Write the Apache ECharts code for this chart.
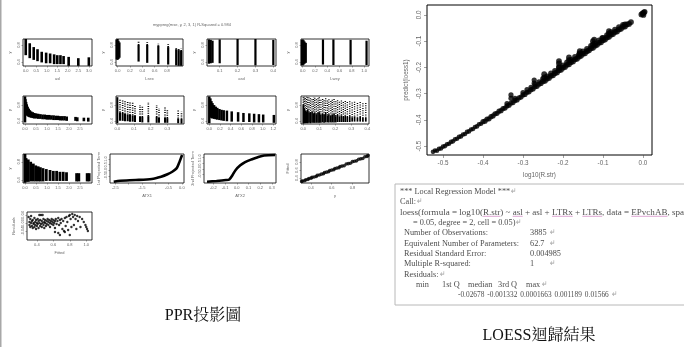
<!DOCTYPE html>
<html>
<head>
<meta charset="utf-8">
<script src="https://cdn.jsdelivr.net/npm/echarts@6/dist/echarts.min.js"></script>
<style>
  html, body { margin: 0; padding: 0; background: #fff; }
  #c { width: 684px; height: 347px; }
</style>
</head>
<body>
<div id="c"></div>
<script>
// ---------- PPR diagnostics (left block) ----------
// strip rows: [x, low, dense top, sparse top]
const aslStrips = [[0.0,0.56,0.94],[0.19,0.49,0.84],[0.38,0.45,0.75],[0.56,0.42,0.70],[0.76,0.39,0.64],[0.97,0.37,0.62],[1.16,0.37,0.60],[1.35,0.35,0.58],[1.5,0.35,0.56],[1.65,0.35,0.56],[1.8,0.35,0.54],[2.04,0.31,0.52],[2.5,0.31,0.49],[3.0,0.31,0.51]];
const lsexStrips = [[-0.015,0.46,0.92],[0.0,0.45,0.94],[0.015,0.47,0.90],[0.03,0.50,0.86],[0.34,0.41,0.80,0.88],[0.48,0.38,0.80,0.87],[0.66,0.35,0.78,0.84],[0.82,0.34,0.75,0.82],[0.95,0.32,0.70,0.75],[0.99,0.31,0.68,0.73],[1.03,0.31,0.66,0.72]];
const asdStrips = [[0.04,0.36,0.93],[0.05,0.37,0.92],[0.06,0.38,0.90],[0.10,0.37,0.93],[0.20,0.33,0.94],[0.30,0.32,0.94],[0.40,0.33,0.92]];
const lweyStrips = [[-0.015,0.33,0.92],[0.0,0.32,0.93],[0.015,0.34,0.91],[0.03,0.36,0.88],[0.05,0.38,0.85],[0.33,0.34,0.93],[0.50,0.33,0.93],[0.78,0.34,0.92],[1.04,0.33,0.90]];
const row2aStrips = [[0.00,0.36,1.02],[0.02,0.60,0.95],[0.05,0.56,0.88],[0.08,0.54,0.82],[0.12,0.52,0.76],[0.17,0.50,0.71],[0.22,0.49,0.67],[0.28,0.48,0.64],[0.35,0.47,0.62],[0.42,0.46,0.60],[0.50,0.46,0.59],[0.60,0.45,0.58],[0.70,0.45,0.57],[0.80,0.44,0.56],[0.90,0.44,0.56],[1.00,0.43,0.55],[1.10,0.43,0.55],[1.20,0.43,0.54],[1.30,0.42,0.54],[1.40,0.42,0.53],[1.50,0.42,0.53],[1.60,0.41,0.52],[1.70,0.41,0.52],[1.80,0.41,0.52],[1.90,0.40,0.51],[2.30,0.40,0.50],[2.38,0.39,0.49],[2.68,0.39,0.48],[2.88,0.38,0.48]];
const row2bStrips = [[0.000,0.34,1.00],[0.016,0.40,0.62,0.97],[0.032,0.40,0.60,0.95],[0.046,0.39,0.58,0.93],[0.062,0.39,0.56,0.90],[0.076,0.38,0.55,0.88],[0.092,0.38,0.54,0.86],[0.106,0.37,0.52,0.80],[0.136,0.37,0.50,0.80],[0.150,0.36,0.50,0.76],[0.186,0.36,0.52,0.88],[0.236,0.35,0.50,0.80],[0.250,0.35,0.48,0.72],[0.286,0.35,0.48,0.76],[0.300,0.35,0.47,0.68],[0.365,0.34,0.46,0.68],[0.385,0.33,0.45,0.63]];
const row2cStrips = [[0.00,0.34,1.02],[0.02,0.50,0.97],[0.04,0.47,0.90],[0.06,0.46,0.85],[0.09,0.45,0.80],[0.12,0.44,0.76],[0.15,0.43,0.73],[0.19,0.42,0.70],[0.23,0.41,0.68],[0.27,0.40,0.67],[0.33,0.39,0.66],[0.42,0.38,0.64],[0.54,0.38,0.62],[0.64,0.37,0.60],[0.75,0.37,0.59],[0.84,0.36,0.58],[0.93,0.36,0.57],[1.01,0.36,0.56],[1.21,0.35,0.55]];
const row2dStrips = [[0.000,0.33,0.80,1.02],[0.006,0.34,0.70,1.01],[0.012,0.34,0.66,1.00],[0.020,0.34,0.64,1.01],[0.028,0.34,0.68,1.00],[0.036,0.35,0.62,0.99],[0.045,0.34,0.60,1.00],[0.055,0.35,0.63,0.98],[0.064,0.35,0.58,0.99],[0.072,0.35,0.61,1.00],[0.082,0.35,0.57,0.97],[0.092,0.35,0.60,0.98],[0.100,0.35,0.62,1.00],[0.110,0.35,0.56,0.96],[0.121,0.36,0.58,0.97],[0.130,0.35,0.55,0.95],[0.140,0.36,0.60,0.98],[0.151,0.36,0.54,0.94],[0.160,0.36,0.57,0.96],[0.172,0.36,0.53,0.93],[0.181,0.36,0.56,0.95],[0.192,0.36,0.58,0.97],[0.203,0.36,0.52,0.92],[0.214,0.37,0.55,0.94],[0.226,0.37,0.51,0.91],[0.238,0.37,0.54,0.93],[0.250,0.37,0.50,0.90],[0.262,0.37,0.53,0.92],[0.275,0.37,0.50,0.89],[0.290,0.37,0.52,0.90],[0.305,0.38,0.49,0.88],[0.320,0.38,0.51,0.89],[0.338,0.38,0.48,0.87],[0.355,0.38,0.50,0.88],[0.372,0.38,0.47,0.86],[0.390,0.38,0.48,0.85]];
const row3aStrips = [[0.00,0.34,0.97],[0.05,0.36,0.88],[0.15,0.36,0.85],[0.26,0.37,0.80],[0.38,0.37,0.76],[0.49,0.37,0.72],[0.60,0.37,0.70],[0.70,0.37,0.68],[0.82,0.37,0.66],[0.97,0.38,0.64],[1.14,0.38,0.62],[1.29,0.38,0.60],[1.44,0.38,0.60],[1.59,0.38,0.58],[1.74,0.38,0.58],[1.89,0.38,0.57],[2.35,0.37,0.55],[2.45,0.37,0.55],[2.83,0.37,0.55],[2.92,0.37,0.55]];

// ridge functions
const atx1 = [-2.56,-2.32,-1.73,-1.13,-0.78,-0.54,-0.36,-0.20,-0.11,-0.04,0.01];
const term1 = [-0.98,-0.89,-0.83,-0.74,-0.54,-0.33,-0.11,0.18,0.62,1.05,1.34];
const atx2 = [-0.254,-0.173,-0.092,-0.064,-0.037,-0.011,0.030,0.071,0.125,0.180,0.233,0.328];
const term2 = [-1.09,-1.03,-0.95,-0.90,-0.54,-0.12,0.29,0.57,0.79,0.98,1.12,1.16];

// fitted vs observed
const pprY = [0.31,0.32,0.34,0.35,0.37,0.38,0.40,0.41,0.43,0.45,0.46,0.48,0.50,0.52,0.53,0.55,0.57,0.58,0.60,0.62,0.63,0.65,0.67,0.68,0.70,0.72,0.74,0.76,0.78,0.80,0.82,0.84,0.86,0.88,0.90,0.92,0.94,0.95];
const pprFit = [0.32,0.33,0.34,0.36,0.37,0.39,0.40,0.42,0.43,0.44,0.47,0.48,0.50,0.51,0.54,0.55,0.56,0.59,0.60,0.61,0.64,0.65,0.66,0.69,0.70,0.71,0.75,0.76,0.77,0.81,0.82,0.83,0.87,0.88,0.89,0.93,0.94,0.96];

// residuals vs fitted
const resFitted = [0.30,0.31,0.31,0.32,0.32,0.33,0.33,0.34,0.34,0.35,0.35,0.36,0.36,0.37,0.37,0.38,0.38,0.39,0.39,0.40,0.40,0.41,0.41,0.42,0.42,0.43,0.43,0.44,0.44,0.45,0.45,0.46,0.46,0.47,0.47,0.48,0.48,0.49,0.49,0.50,0.50,0.51,0.52,0.52,0.53,0.54,0.54,0.55,0.56,0.56,0.57,0.58,0.58,0.59,0.60,0.60,0.61,0.62,0.62,0.63,0.64,0.65,0.66,0.67,0.68,0.69,0.70,0.71,0.72,0.73,0.74,0.75,0.76,0.77,0.78,0.79,0.80,0.80,0.81,0.82,0.83,0.84,0.85,0.86,0.87,0.88,0.89,0.90,0.92,0.93,0.95,0.97,0.99,1.00,1.01,1.02,0.66,0.68,0.74,0.62];
const resValue = [0.03,0.005,-0.01,0.02,-0.02,0.0,0.035,-0.015,0.01,-0.025,0.015,0.0,-0.005,0.025,-0.02,0.005,-0.01,0.015,-0.03,0.0,-0.015,0.02,-0.005,0.01,-0.025,0.0,0.04,-0.015,0.015,-0.005,0.04,0.01,-0.02,0.0,0.04,-0.01,0.02,0.005,-0.025,0.0,0.015,-0.015,0.01,-0.005,0.02,-0.01,0.005,0.015,-0.02,0.0,0.01,-0.005,0.02,0.005,-0.01,0.015,0.0,0.01,-0.025,0.02,-0.005,0.01,0.025,-0.01,0.015,0.0,0.02,-0.03,0.01,-0.04,0.025,-0.015,0.03,0.005,-0.035,0.035,0.04,-0.06,0.02,-0.02,0.045,0.03,-0.01,0.04,0.02,-0.03,0.035,0.01,0.03,-0.02,0.02,0.005,-0.01,-0.02,-0.03,-0.04,-0.05,-0.06,-0.045,-0.045];

// ---------- LOESS fit (right block) ----------
// centre of the band, its lower and upper edges, the spikes above it, and the cluster at 0
const loessObs = [-0.525,-0.52,-0.51,-0.50,-0.49,-0.48,-0.47,-0.46,-0.45,-0.44,-0.43,-0.42,-0.41,-0.40,-0.39,-0.38,-0.37,-0.36,-0.35,-0.34,-0.33,-0.32,-0.31,-0.30,-0.29,-0.28,-0.27,-0.26,-0.25,-0.24,-0.23,-0.22,-0.21,-0.20,-0.19,-0.18,-0.17,-0.16,-0.15,-0.14,-0.13,-0.12,-0.11,-0.10,-0.09,-0.08,-0.07,-0.06,-0.05,-0.04,-0.03,
  -0.515,-0.505,-0.495,-0.485,-0.475,-0.465,-0.455,-0.445,-0.435,-0.425,-0.415,-0.405,-0.395,-0.385,-0.375,-0.365,-0.355,-0.345,-0.335,-0.325,-0.315,-0.305,-0.295,-0.285,-0.275,-0.265,-0.255,-0.245,-0.235,-0.225,-0.215,-0.205,-0.195,-0.185,-0.175,-0.165,-0.155,-0.145,-0.135,-0.125,-0.115,-0.105,-0.095,-0.085,-0.075,-0.065,-0.055,-0.045,-0.035,
  -0.34,-0.32,-0.30,-0.29,-0.28,-0.27,-0.26,-0.25,-0.24,-0.23,-0.22,-0.21,-0.20,-0.19,-0.18,-0.17,-0.16,-0.15,-0.14,-0.13,-0.12,-0.11,-0.10,-0.09,-0.08,-0.07,-0.06,-0.05,-0.045,
  -0.33,-0.33,-0.272,-0.272,-0.247,-0.247,-0.21,-0.21,-0.21,-0.185,-0.185,-0.158,-0.158,-0.125,-0.125,-0.122,-0.102,-0.085,-0.085,
  -0.004,-0.001,0.002,0.004,0.001];
const loessFit = [-0.522,-0.517,-0.510,-0.502,-0.493,-0.484,-0.474,-0.465,-0.456,-0.446,-0.437,-0.427,-0.417,-0.407,-0.397,-0.388,-0.377,-0.367,-0.357,-0.347,-0.336,-0.326,-0.316,-0.305,-0.295,-0.285,-0.274,-0.264,-0.253,-0.243,-0.232,-0.222,-0.211,-0.201,-0.190,-0.180,-0.169,-0.159,-0.148,-0.138,-0.127,-0.117,-0.106,-0.096,-0.086,-0.075,-0.065,-0.055,-0.045,-0.036,-0.027,
  -0.518,-0.509,-0.500,-0.491,-0.482,-0.472,-0.463,-0.454,-0.444,-0.435,-0.425,-0.415,-0.405,-0.396,-0.385,-0.375,-0.365,-0.355,-0.344,-0.334,-0.324,-0.313,-0.303,-0.293,-0.282,-0.272,-0.261,-0.251,-0.240,-0.230,-0.219,-0.209,-0.198,-0.188,-0.177,-0.167,-0.156,-0.146,-0.135,-0.125,-0.114,-0.104,-0.094,-0.083,-0.073,-0.063,-0.053,-0.044,-0.034,
  -0.338,-0.318,-0.296,-0.285,-0.276,-0.265,-0.255,-0.244,-0.234,-0.223,-0.213,-0.202,-0.192,-0.181,-0.171,-0.160,-0.150,-0.139,-0.129,-0.118,-0.108,-0.097,-0.087,-0.077,-0.066,-0.056,-0.046,-0.038,-0.036,
  -0.318,-0.305,-0.260,-0.248,-0.238,-0.226,-0.198,-0.185,-0.176,-0.172,-0.162,-0.146,-0.138,-0.112,-0.100,-0.094,-0.088,-0.070,-0.062,
  0.002,0.006,0.009,0.012,0.0];

const loessLines = [
  '*** Local Regression Model ***',
  'Call:',
  'loess(formula = log10(R.str) ~ asl + asl + LTRx + LTRs, data = EPvchAB, span',
  '= 0.05, degree = 2, cell = 0.05)',
  'Number of Observations:',
  'Equivalent Number of Parameters:',
  'Residual Standard Error:',
  'Multiple R-squared:',
  'Residuals:'
];
const loessValues = ['3885', '62.7', '0.004985', '1'];
const residHeader = ['min', '1st Q', 'median', '3rd Q', 'max'];
const residQuant = ['-0.02678', '-0.001332', '0.0001663', '0.001189', '0.01566'];

// ---------- helpers ----------
const FONT = '"Liberation Sans", Arial, sans-serif';
const grids = [], xAxes = [], yAxes = [], series = [];

function fmt(v, d) {
  const s = Number(v).toFixed(d);
  return /^-0(\.0+)?$/.test(s) ? s.slice(1) : s;
}

function addPanel(p) {
  const i = grids.length;
  const fs = p.fs || 4;
  grids.push({
    left: p.box[0], top: p.box[1], width: p.box[2], height: p.box[3],
    show: true, borderColor: '#000', borderWidth: p.bw || 0.8, backgroundColor: 'rgba(0,0,0,0)'
  });
  xAxes.push({
    gridIndex: i, type: 'value', min: p.x[0], max: p.x[1], position: 'bottom',
    splitLine: { show: false }, axisLine: { show: false, onZero: false },
    axisTick: { show: true, length: p.tl || 1.5, customValues: p.xt, lineStyle: { color: '#444', width: 0.5 } },
    axisLabel: { customValues: p.xl || p.xt, fontSize: fs, color: '#666', margin: p.lm || 2.5, fontFamily: FONT,
      formatter: v => fmt(v, p.xd) },
    name: p.xn || '', nameLocation: 'middle', nameGap: p.xg || 11,
    nameTextStyle: { fontSize: fs, color: '#666', fontFamily: FONT }
  });
  yAxes.push({
    gridIndex: i, type: 'value', min: p.y[0], max: p.y[1], position: 'left',
    splitLine: { show: false }, axisLine: { show: false, onZero: false },
    axisTick: { show: true, length: p.tl || 1.5, customValues: p.yt, lineStyle: { color: '#444', width: 0.5 } },
    axisLabel: { customValues: p.yl || p.yt, fontSize: fs, color: '#666', margin: p.lm || 2.5, rotate: 90, fontFamily: FONT,
      formatter: v => fmt(v, p.yd) },
    name: p.yn || '', nameLocation: 'middle', nameGap: p.yg || 11, nameRotate: 90,
    nameTextStyle: { fontSize: fs, color: '#666', fontFamily: FONT }
  });
  return i;
}

function strips(i, data, w) {
  series.push({
    type: 'custom', xAxisIndex: i, yAxisIndex: i, coordinateSystem: 'cartesian2d', silent: true,
    dimensions: ['x', 'lo', 'hi', 'top'], encode: { x: 0, y: [1, 2] },
    data: data.map(r => [r[0], r[1], r[2], r.length > 3 ? r[3] : r[2]]),
    renderItem: (params, api) => {
      const x = api.value(0), lo = api.value(1), hi = api.value(2), top = api.value(3);
      const a = api.coord([x, lo]), b = api.coord([x, hi]), c = api.coord([x, top]);
      const kids = [{ type: 'rect', shape: { x: a[0] - w / 2, y: b[1], width: w, height: a[1] - b[1] }, style: { fill: '#000' } }];
      if (top > hi) kids.push({ type: 'line', shape: { x1: b[0], y1: b[1], x2: c[0], y2: c[1] },
        style: { stroke: '#000', lineWidth: w * 0.8, lineDash: [1, 1.3] } });
      return { type: 'group', children: kids };
    }
  });
}

function zip(a, b) { return a.map((v, k) => [v, b[k]]); }

const yRow1 = [0.306, 0.94], yRow2 = [0.32, 1.03], yRow3 = [0.335, 0.97];
const t05 = [0, 0.5, 1, 1.5, 2, 2.5];

// row 1
let g;
g = addPanel({ box: [23, 39, 69, 27], x: [-0.13, 3.15], y: yRow1, xt: [0, 0.5, 1, 1.5, 2, 2.5, 3], xd: 1, yt: [0.4, 0.8], yd: 1, xn: 'asl', yn: 'y' });
strips(g, aslStrips, 2.6);
g = addPanel({ box: [116, 39, 67, 27], x: [-0.026, 1.06], y: yRow1, xt: [0, 0.2, 0.4, 0.6, 0.8], xd: 1, yt: [0.4, 0.8], yd: 1, xn: 'Lsex', yn: 'y' });
strips(g, lsexStrips, 2.2);
g = addPanel({ box: [207, 39, 69, 27], x: [0.029, 0.415], y: yRow1, xt: [0.1, 0.2, 0.3, 0.4], xd: 1, yt: [0.4, 0.8], yd: 1, xn: 'asd', yn: 'y' });
strips(g, asdStrips, 2.2);
g = addPanel({ box: [301, 39, 68, 27], x: [-0.028, 1.08], y: yRow1, xt: [0, 0.2, 0.4, 0.6, 0.8, 1.0], xd: 1, yt: [0.4, 0.8], yd: 1, xn: 'Lwey', yn: 'y' });
strips(g, lweyStrips, 2.2);

// row 2
g = addPanel({ box: [23, 96, 69, 28], x: [-0.09, 3.05], y: yRow2, xt: t05, xd: 1, yt: [0.4, 0.8], yd: 1, yn: 'y' });
strips(g, row2aStrips, 2.6);
g = addPanel({ box: [116, 96, 68, 28], x: [-0.008, 0.40], y: yRow2, xt: [0, 0.1, 0.2, 0.3], xd: 1, yt: [0.4, 0.8], yd: 1, yn: 'y' });
strips(g, row2bStrips, 2);
g = addPanel({ box: [207, 96, 69, 28], x: [-0.043, 1.25], y: yRow2, xt: [0, 0.2, 0.4, 0.6, 0.8, 1.0, 1.2], xd: 1, yt: [0.4, 0.8], yd: 1, yn: 'y' });
strips(g, row2cStrips, 2.5);
g = addPanel({ box: [301, 96, 68, 28], x: [-0.014, 0.41], y: yRow2, xt: [0, 0.1, 0.2, 0.3, 0.4], xd: 1, yt: [0.4, 0.8], yd: 1, yn: 'y' });
strips(g, row2dStrips, 1.7);

// row 3
g = addPanel({ box: [23, 154, 69, 29], x: [-0.09, 3.05], y: yRow3, xt: t05, xd: 1, yt: [0.4, 0.8], yd: 1, yn: 'y' });
strips(g, row3aStrips, 2.8);
g = addPanel({ box: [110, 154, 74, 29], x: [-2.7, 0.08], y: [-1.09, 1.43], xt: [-2.5, -2, -1.5, -1, -0.5, 0], xl: [-2.5, -1.5, -0.5, 0], xd: 1,
  yt: [-1, -0.5, 0, 0.5, 1], yd: 1, xn: 'ATX1', yn: '1st Projected Term', yg: 9 });
series.push({ type: 'line', xAxisIndex: g, yAxisIndex: g, data: zip(atx1, term1), showSymbol: false, smooth: 0.25,
  lineStyle: { color: '#000', width: 2.6 }, silent: true });
g = addPanel({ box: [204, 154, 72, 29], x: [-0.28, 0.335], y: [-1.2, 1.25], xt: [-0.2, -0.1, 0, 0.1, 0.2, 0.3], xd: 1,
  yt: [-1, -0.5, 0, 0.5, 1], yd: 1, xn: 'ATX2', yn: '2nd Projected Term', yg: 9 });
series.push({ type: 'line', xAxisIndex: g, yAxisIndex: g, data: zip(atx2, term2), showSymbol: false, smooth: 0.25,
  lineStyle: { color: '#000', width: 2.6 }, silent: true });
g = addPanel({ box: [301, 154, 68, 29], x: [0.303, 0.96], y: [0.28, 1.0], xt: [0.4, 0.6, 0.8], xd: 1, yt: [0.4, 0.6, 0.8], yd: 1, xn: 'y', yn: 'Fitted' });
series.push({ type: 'scatter', xAxisIndex: g, yAxisIndex: g, data: zip(pprY, pprFit), symbolSize: 3.6,
  itemStyle: { color: '#000' }, silent: true });

// row 4
g = addPanel({ box: [27, 212, 65, 28], x: [0.28, 1.07], y: [-0.085, 0.055], xt: [0.4, 0.6, 0.8, 1.0], xd: 1,
  yt: [-0.08, -0.04, 0, 0.04], yd: 2, xn: 'Fitted', yn: 'Residuals' });
series.push({ type: 'scatter', xAxisIndex: g, yAxisIndex: g, data: zip(resFitted, resValue), symbolSize: 2.4,
  itemStyle: { color: '#000' }, silent: true });

// LOESS: predicted vs observed
g = addPanel({ box: [427, 5, 225, 150], x: [-0.54, 0.0225], y: [-0.534, 0.038], bw: 1,
  xt: [-0.5, -0.4, -0.3, -0.2, -0.1, 0], xd: 1, yt: [-0.5, -0.4, -0.3, -0.2, -0.1, 0], yd: 1,
  fs: 6.3, tl: 3, lm: 5, xn: 'log10(R.str)', xg: 17, yn: 'predict(loess1)', yg: 18 });
series.push({ type: 'scatter', xAxisIndex: g, yAxisIndex: g, data: zip(loessObs, loessFit),
  symbolSize: v => (v[0] < -0.4 ? 4.6 : v[0] < -0.25 ? 5.2 : 5.8),
  itemStyle: { color: '#000' }, silent: true });

// ---------- printed model summary ----------
const measure = document.createElement('canvas').getContext('2d');
const TXT_FS = 9.2, TXT_FONT = '"Liberation Serif", "Times New Roman", serif';
measure.font = TXT_FS + 'px ' + TXT_FONT;
const txtColor = '#4d4d4d', markColor = '#9a9a9a';
const boxX = 395, boxY = 184, textX = 400;
const lineY = [191.7, 202, 212.3, 222.6, 232.9, 243.2, 253.5, 263.8, 274.1, 284.4, 294.7];
const sx = 0.9;

const graphic = [
  { type: 'rect', shape: { x: 0, y: 0, width: 1.5, height: 347 }, style: { fill: '#a8a8a8' }, silent: true },
  { type: 'text', x: 192, y: 25, style: { text: 'myppreg(mse, y, 2, 3, 1) R-Squared = 0.984', fontSize: 4, fontFamily: FONT,
      fill: '#666', align: 'center', verticalAlign: 'middle' }, silent: true },
  { type: 'rect', shape: { x: boxX, y: boxY, width: 320, height: 121 }, style: { fill: '#fff', stroke: '#b8b8b8', lineWidth: 1 }, silent: true }
];
function addText(str, x, y, scale, color) {
  graphic.push({ type: 'text', x: x, y: y, scaleX: scale, silent: true,
    style: { text: str, fontSize: TXT_FS, fontFamily: TXT_FONT, fill: color || txtColor, align: 'left', verticalAlign: 'middle' } });
  return measure.measureText(str).width * scale;
}
function mark(x, y) { addText('\u21b5', x, y, 0.7, markColor); }

// heading lines
let w = addText(loessLines[0], textX, lineY[0], sx); mark(textX + w + 1, lineY[0]);
w = addText(loessLines[1], textX, lineY[1], sx); mark(textX + w + 1, lineY[1]);
// the call, running off the right edge
const cutAt = loessLines[2].lastIndexOf('n');
const callScale = (684 - textX) / measure.measureText(loessLines[2].slice(0, cutAt)).width;
addText(loessLines[2], textX, lineY[2], callScale);
['R.str', 'asl', 'LTRx', 'LTRs', 'EPvchAB'].forEach(word => {
  const idx = loessLines[2].indexOf(word);
  const x0 = textX + measure.measureText(loessLines[2].slice(0, idx)).width * callScale;
  const x1 = x0 + measure.measureText(word).width * callScale;
  graphic.push({ type: 'line', shape: { x1: x0, y1: lineY[2] + 4, x2: x1, y2: lineY[2] + 4 },
    style: { stroke: '#d58fc8', lineWidth: 0.8 }, silent: true });
});
w = addText(loessLines[3], textX + 13, lineY[3], sx); mark(textX + 13 + w + 1, lineY[3]);
// statistics with aligned values
for (let k = 0; k < 4; k++) {
  addText(loessLines[4 + k], textX + 4, lineY[4 + k], sx);
  addText(loessValues[k], textX + 130, lineY[4 + k], sx);
  mark(textX + 150, lineY[4 + k]);
}
w = addText(loessLines[8], textX + 4, lineY[8], sx); mark(textX + 4 + w + 2, lineY[8]);
const hdrX = [16, 42, 68, 98, 126];
residHeader.forEach((h, k) => addText(h, textX + hdrX[k], lineY[9], sx));
mark(textX + 142, lineY[9]);
let qx = textX + 58;
residQuant.forEach(q => { qx += addText(q, qx, lineY[10], 0.8) + 3; });
mark(qx, lineY[10]);

// captions
const CAP_FONT = '"Liberation Serif", "Noto Serif CJK TC", "Noto Sans CJK TC", serif';
graphic.push({ type: 'text', x: 203, y: 316, silent: true,
  style: { text: 'PPR投影圖', fontSize: 16, fontFamily: CAP_FONT, fill: '#111', align: 'center', verticalAlign: 'middle' } });
graphic.push({ type: 'text', x: 539, y: 336, silent: true,
  style: { text: 'LOESS迴歸結果', fontSize: 16, fontFamily: CAP_FONT, fill: '#111', align: 'center', verticalAlign: 'middle' } });

const chart = echarts.init(document.getElementById('c'), null, { renderer: 'canvas', width: 684, height: 347 });
chart.setOption({
  animation: false,
  backgroundColor: '#fff',
  grid: grids, xAxis: xAxes, yAxis: yAxes, series: series,
  graphic: graphic
});
</script>
</body>
</html>
